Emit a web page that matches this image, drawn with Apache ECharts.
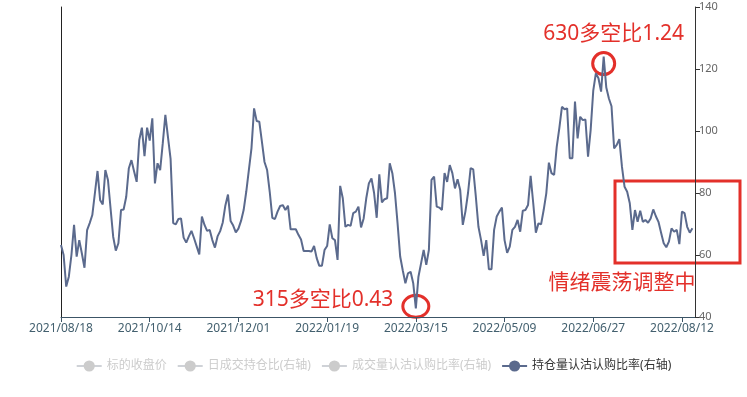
<!DOCTYPE html>
<html>
<head>
<meta charset="utf-8">
<script src="https://cdn.jsdelivr.net/npm/echarts@6/dist/echarts.min.js"></script>
<style>
  html, body { margin: 0; padding: 0; background: #fff; }
  #main { width: 747px; height: 397px; }
</style>
</head>
<body>
<div id="main"></div>
<script>
// trading calendar (SSE), weekends are skipped in code
var startDate = '2021-08-18';
var endDate = '2022-08-19';
var holidays = [
  '2021-09-20', '2021-09-21', '2021-10-01', '2021-10-04', '2021-10-05', '2021-10-06', '2021-10-07',
  '2022-01-03', '2022-01-31', '2022-02-01', '2022-02-02', '2022-02-03', '2022-02-04',
  '2022-04-04', '2022-04-05', '2022-05-02', '2022-05-03', '2022-05-04', '2022-06-03'
];

var legendNames = ['标的收盘价', '日成交持仓比(右轴)', '成交量认沽认购比率(右轴)', '持仓量认沽认购比率(右轴)'];

// 持仓量认沽认购比率 (x100)
var ratioData = [
  63.2, 60, 49.8, 53, 60, 69.7, 59.5, 64.8, 60.5, 55.9,
  68, 70.3, 72.9, 80, 87.1, 77.7, 76.3, 87.4, 84.2, 75,
  65.9, 61.4, 63.8, 74.5, 74.7, 78.8, 88, 90.6, 87, 83.6,
  97.1, 101.1, 91.9, 101.1, 96.9, 104.1, 83.1, 89.6, 87.4, 96,
  105.2, 98, 91, 70.3, 69.9, 71.6, 71.8, 65.6, 64, 66,
  67.8, 65.4, 62.8, 60.2, 72.4, 69.7, 67.8, 68.1, 64.8, 62.4,
  66, 67.7, 70.5, 76, 79.5, 71, 69.5, 67.3, 68.5, 71,
  74.5, 80.4, 87.4, 94.4, 107.3, 103.2, 103, 96.6, 90, 87.4,
  80.4, 72, 71.6, 74, 75.8, 76.1, 74.5, 75.9, 68.3, 68.3,
  68.3, 66.5, 65, 61.3, 61.3, 61.3, 61.1, 62.9, 59, 56.5,
  56.5, 61.6, 62.9, 69.9, 65.4, 64.8, 58.4, 82.3, 78.3, 69.1,
  69.7, 69.4, 73.5, 74, 75.6, 68.9, 71.8, 78.3, 83.1, 84.7,
  80, 72, 86, 77, 78, 78.3, 89.6, 86.4, 80, 70.2,
  59.5, 55, 50.9, 54.1, 54.6, 50.9, 42.8, 53, 57.3, 61.6,
  56.8, 61.6, 84.2, 85.3, 75.6, 75.3, 74.5, 86.4, 83.6, 89,
  86.4, 81.5, 84.4, 81, 69.7, 74, 80, 88, 87.6, 78.8,
  69.1, 64.8, 59.7, 64.8, 55.4, 55.4, 68.1, 72.4, 74, 75.3,
  64.8, 60.7, 62.7, 68.1, 69.1, 71.3, 67.5, 74.3, 74.5, 76.1,
  85.5, 76.7, 67.2, 70.2, 69.9, 74.5, 79.9, 89.8, 86.4, 85.8,
  94.9, 100.9, 107.8, 107, 107.3, 91.2, 91.2, 109.5, 97.6, 104.6,
  103.5, 103.7, 91.7, 100.3, 113, 118.6, 117, 112.7, 124, 114,
  110.5, 108, 94.4, 95.5, 97.4, 88.5, 82, 80.4, 76.7, 68.1,
  74.5, 70.7, 74.3, 70.7, 71.3, 70.4, 71.8, 74.7, 72.5, 70.7,
  67.2, 63.8, 62.5, 64.3, 68.6, 67.5, 68.1, 63.5, 74, 73.5,
  69.1, 67.2, 68.6
];

var peakNote = '630多空比1.24';
var troughNote = '315多空比0.43';
var rangeNote = '情绪震荡调整中';
var peakIndex = 208;
var troughIndex = 136;

function tradingDays(start, end) {
  var days = [];
  var d = new Date(start + 'T00:00:00Z');
  var last = new Date(end + 'T00:00:00Z');
  while (d <= last) {
    var wd = d.getUTCDay();
    var iso = d.toISOString().slice(0, 10);
    if (wd !== 0 && wd !== 6 && holidays.indexOf(iso) < 0) {
      days.push(iso.replace(/-/g, '/'));
    }
    d.setUTCDate(d.getUTCDate() + 1);
  }
  return days;
}

var dates = tradingDays(startDate, endDate);
var lineColor = '#5b6a8d';
var red = '#e3302a';
var font = '"Noto Sans", "Noto Sans CJK SC", sans-serif';

var myChart = echarts.init(document.getElementById('main'));

var option = {
  animation: false,
  textStyle: { fontFamily: font },
  legend: {
    data: legendNames,
    top: 355,
    left: 'center',
    itemWidth: 25,
    itemHeight: 14,
    itemGap: 10,
    textStyle: { fontSize: 12, color: '#333', fontFamily: font },
    inactiveColor: '#ccc',
    selected: {
      '标的收盘价': false,
      '日成交持仓比(右轴)': false,
      '成交量认沽认购比率(右轴)': false
    }
  },
  grid: { left: 61, right: 52, top: 7, bottom: 80 },
  xAxis: {
    type: 'category',
    boundaryGap: false,
    data: dates,
    axisLine: { onZero: false, lineStyle: { color: '#3c5566' } },
    axisTick: { interval: 33, lineStyle: { color: '#3c5566' } },
    axisLabel: { interval: 33, color: '#43606f', fontSize: 12, margin: 6 },
    splitLine: { show: false }
  },
  yAxis: [{
    type: 'value',
    position: 'left',
    axisLine: { show: true, lineStyle: { color: '#222' } },
    axisTick: { show: false },
    axisLabel: { show: false },
    splitLine: { show: false }
  }, {
    type: 'value',
    position: 'right',
    min: 40,
    max: 140,
    interval: 20,
    axisLine: { show: true, lineStyle: { color: '#333' } },
    axisTick: { show: true, length: 5, lineStyle: { color: '#333' } },
    axisLabel: { color: '#666', fontSize: 11, margin: 4 },
    splitLine: { show: false }
  }],
  series: [{
    name: legendNames[0], type: 'line', yAxisIndex: 0, data: [],
    symbol: 'circle', showSymbol: false, color: '#c23531'
  }, {
    name: legendNames[1], type: 'line', yAxisIndex: 1, data: [],
    symbol: 'circle', showSymbol: false, color: '#2f4554'
  }, {
    name: legendNames[2], type: 'line', yAxisIndex: 1, data: [],
    symbol: 'circle', showSymbol: false, color: '#61a0a8'
  }, {
    name: legendNames[3], type: 'line', yAxisIndex: 1, data: ratioData,
    symbol: 'circle', showSymbol: false, color: lineColor,
    lineStyle: { width: 2, color: lineColor }
  }]
};

myChart.setOption(option);

// hand-drawn style notes on top of the chart
var peak = myChart.convertToPixel({ seriesIndex: 3 }, [peakIndex, ratioData[peakIndex]]);
var trough = myChart.convertToPixel({ seriesIndex: 3 }, [troughIndex, ratioData[troughIndex]]);
var noteStyle = { fill: red, fontSize: 21, fontFamily: font };

myChart.setOption({
  graphic: [{
    type: 'ellipse',
    shape: { cx: peak[0], cy: peak[1] + 7, rx: 11, ry: 11 },
    style: { fill: 'none', stroke: red, lineWidth: 3 }
  }, {
    type: 'ellipse',
    shape: { cx: trough[0], cy: trough[1] - 2, rx: 13, ry: 11 },
    style: { fill: 'none', stroke: red, lineWidth: 3 }
  }, {
    type: 'text',
    x: peak[0] + 10, y: 34,
    style: Object.assign({ text: peakNote, align: 'center', verticalAlign: 'middle' }, noteStyle)
  }, {
    type: 'text',
    x: 323, y: 300,
    style: Object.assign({ text: troughNote, align: 'center', verticalAlign: 'middle' }, noteStyle)
  }, {
    type: 'rect',
    shape: { x: 615, y: 181, width: 125, height: 82 },
    style: { fill: 'none', stroke: red, lineWidth: 3 }
  }, {
    type: 'text',
    x: 622, y: 283,
    style: Object.assign({ text: rangeNote, align: 'center', verticalAlign: 'middle' }, noteStyle)
  }]
});
</script>
</body>
</html>
